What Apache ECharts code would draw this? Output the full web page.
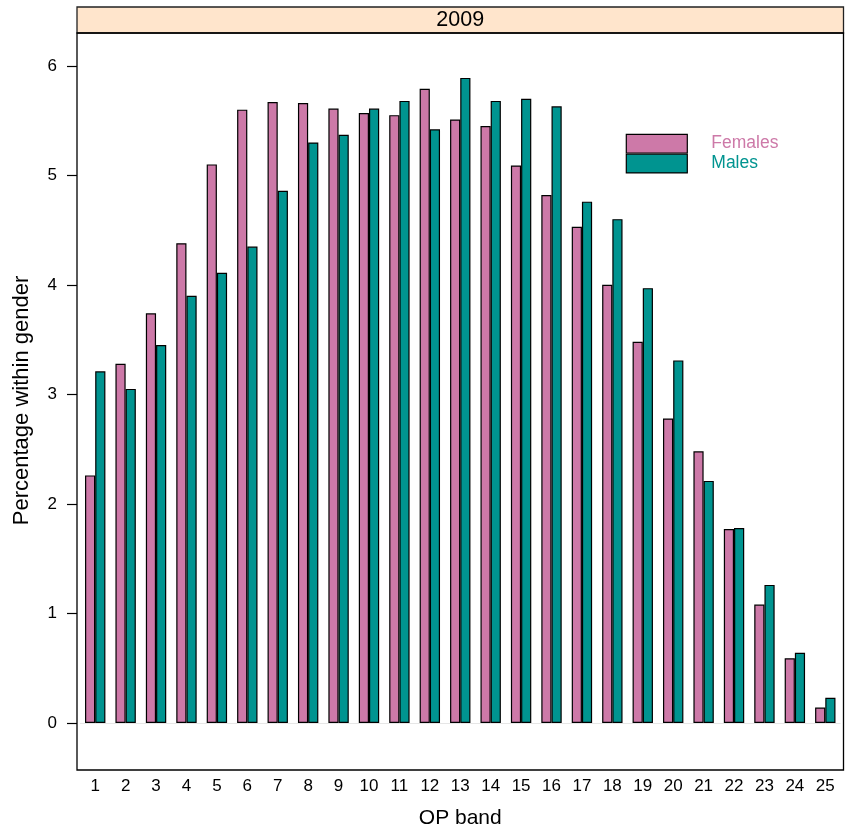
<!DOCTYPE html>
<html>
<head>
<meta charset="utf-8">
<script src="https://cdn.jsdelivr.net/npm/echarts@6/dist/echarts.min.js"></script>
<style>
  html, body { margin: 0; padding: 0; background: #fff; }
  #main { width: 845px; height: 834px; }
</style>
</head>
<body>
<div id="main"></div>
<script>
// OP band 1..25, year 2009
const bands = ['1','2','3','4','5','6','7','8','9','10','11','12','13','14','15','16','17','18','19','20','21','22','23','24','25']
const females = [2.26, 3.28, 3.74, 4.38, 5.10, 5.60, 5.67, 5.66, 5.61, 5.57, 5.55, 5.79, 5.51, 5.45, 5.09, 4.82, 4.53, 4.00, 3.48, 2.78, 2.48, 1.77, 1.08, 0.59, 0.14]
const males = [3.21, 3.05, 3.45, 3.90, 4.11, 4.35, 4.86, 5.30, 5.37, 5.61, 5.68, 5.42, 5.89, 5.68, 5.70, 5.63, 4.76, 4.60, 3.97, 3.31, 2.21, 1.78, 1.26, 0.64, 0.23]
const yTicks = [0, 1, 2, 3, 4, 5, 6]
const stripLabel = '2009'

const FONT = "'Liberation Sans', Arial, sans-serif"
const PINK = '#CD79A8'
const TEAL = '#009490'

let myChart = echarts.init(document.getElementById('main'), null, { renderer: 'canvas' })

// panel frame (lattice style), data grid sits 0.1 band inside it on each side
const panel = { x: 77, y: 33, w: 766.5, h: 737 }

let option = {
  animation: false,
  backgroundColor: '#fff',
  textStyle: { fontFamily: FONT },
  grid: { left: 80, right: 4.5, top: 33, bottom: 64 },
  legend: {
    orient: 'vertical',
    left: 625.7,
    top: 133.7,
    padding: 0,
    itemGap: 0,
    itemWidth: 61,
    itemHeight: 18.7,
    icon: 'rect',
    itemStyle: { borderColor: '#000', borderWidth: 1.2 },
    textStyle: { fontSize: 17.5, fontFamily: FONT, padding: [0, 0, 0, 19], lineHeight: 18 },
    data: [
      { name: 'Females', textStyle: { color: PINK } },
      { name: 'Males', textStyle: { color: TEAL } },
    ],
  },
  xAxis: {
    type: 'category',
    data: bands,
    boundaryGap: true,
    name: 'OP band',
    nameLocation: 'middle',
    nameGap: 40,
    nameTextStyle: { fontSize: 21, color: '#000', fontFamily: FONT },
    axisLine: { show: false, onZero: false },
    axisTick: { show: false },
    axisLabel: { fontSize: 17, color: '#000', margin: 10, interval: 0, fontFamily: FONT },
    splitLine: { show: false },
  },
  yAxis: {
    type: 'value',
    min: -0.412,
    max: 6.30,
    offset: 3,
    name: 'Percentage within gender',
    nameLocation: 'middle',
    nameGap: 44,
    nameTextStyle: { fontSize: 22, color: '#000', fontFamily: FONT },
    axisLine: { show: false },
    axisTick: { show: true, length: 10, lineStyle: { color: '#000', width: 1.2 }, customValues: yTicks },
    axisLabel: { fontSize: 17, color: '#000', margin: 20, fontFamily: FONT, customValues: yTicks },
    splitLine: { show: false },
  },
  series: [
    {
      name: 'Females',
      type: 'bar',
      data: females,
      barGap: '0%',
      barCategoryGap: '33%',
      itemStyle: { color: PINK, borderColor: '#000', borderWidth: 1.2 },
      markLine: {
        silent: true,
        symbol: 'none',
        label: { show: false },
        lineStyle: { color: '#e6e6e6', type: 'solid', width: 1 },
        z: 1,
        data: [{ yAxis: 0 }],
      },
    },
    {
      name: 'Males',
      type: 'bar',
      data: males,
      barGap: '0%',
      barCategoryGap: '33%',
      itemStyle: { color: TEAL, borderColor: '#000', borderWidth: 1.2 },
    },
  ],
  graphic: [
    {
      type: 'rect',
      shape: { x: panel.x, y: 7, width: panel.w, height: 26 },
      style: { fill: '#FFE5CC', stroke: '#222', lineWidth: 1.3 },
      z: 10,
    },
    {
      type: 'text',
      x: panel.x + panel.w / 2,
      y: 20,
      style: { text: stripLabel, fill: '#000', font: '21.5px ' + FONT, textAlign: 'center', textVerticalAlign: 'middle' },
      z: 11,
    },
    {
      type: 'rect',
      shape: { x: panel.x, y: panel.y, width: panel.w, height: panel.h },
      style: { fill: 'none', stroke: '#000', lineWidth: 1.3 },
      z: 10,
    },
  ],
}
myChart.setOption(option)
</script>
</body>
</html>
